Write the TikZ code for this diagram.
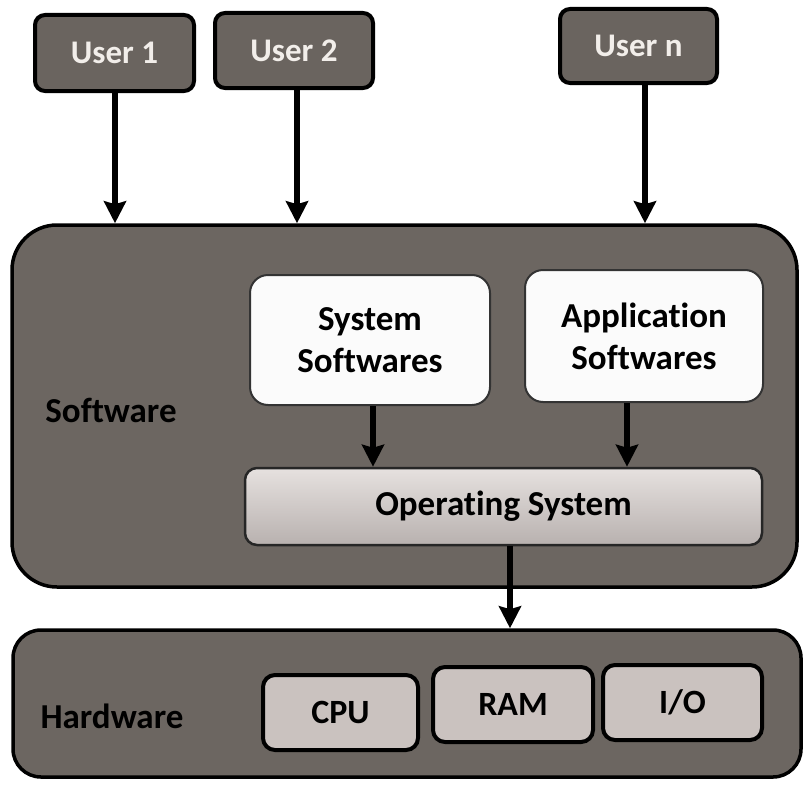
\documentclass[tikz,border=0pt]{standalone}
\usepackage{fontspec}
\setmainfont{Carlito}[Ligatures=NoCommon]
\usetikzlibrary{arrows.meta}
\definecolor{darkbox}{HTML}{6C6661}
\definecolor{userfill}{HTML}{6A645F}
\definecolor{ostop}{HTML}{E6E1DF}
\definecolor{osbot}{HTML}{B8B1AF}
\definecolor{hwfill}{HTML}{CAC2BF}
\definecolor{usertext}{HTML}{F2EEEA}
\tikzset{
  userbox/.style={draw=black, line width=4pt, fill=userfill, rounded corners=10pt,
    text=usertext, font=\fontsize{33}{36}\selectfont\bfseries, inner sep=0pt},
  groupbox/.style={draw=black, line width=3.5pt, fill=darkbox, inner sep=0pt},
  swbox/.style={draw=black!80, line width=2pt, fill=white!97!gray, rounded corners=18pt,
    font=\fontsize{35}{42}\selectfont\bfseries, align=center, inner sep=0pt},
  osbox/.style={draw=black!85, line width=2.5pt, top color=ostop, bottom color=osbot,
    rounded corners=12pt, font=\fontsize{35}{40}\selectfont\bfseries, inner sep=0pt},
  hwbox/.style={draw=black, line width=4pt, fill=hwfill, rounded corners=12pt,
    font=\fontsize{34}{38}\selectfont\bfseries, inner sep=0pt},
  grouplabel/.style={font=\fontsize{35}{38}\selectfont\bfseries, text=black},
  arr/.style={draw=black, line width=5.5pt, -{Stealth[length=22pt,width=22pt,inset=3pt]}},
}
\begin{document}
\begin{tikzpicture}[x=1pt,y=-1pt]
\useasboundingbox (0,0) rectangle (805,784);
\fill[white] (0,0) rectangle (805,784);
% users
\node[userbox, minimum width=159pt, minimum height=76pt] (u1) at (114.5,53) {User 1};
\node[userbox, minimum width=158pt, minimum height=75pt] (u2) at (294,50.5) {User 2};
\node[userbox, minimum width=157pt, minimum height=74pt] (un) at (638.5,46) {User n};
% software group
\node[groupbox, rounded corners=45pt, minimum width=785pt, minimum height=362pt] (sw) at (404.5,406) {};
\node[grouplabel] (swl) at (111,410) {Software};
\node[swbox, minimum width=240pt, minimum height=130pt] (sys) at (370,340) {System\\Softwares};
\node[swbox, minimum width=238pt, minimum height=132pt] (app) at (644,336) {Application\\Softwares};
\node[osbox, minimum width=517pt, minimum height=77pt] (os) at (503.5,506.5) {Operating System};
% hardware group
\node[groupbox, rounded corners=28pt, minimum width=788pt, minimum height=147pt] (hw) at (407,703.5) {};
\node[grouplabel] (hwl) at (112,716) {Hardware};
\node[hwbox, minimum width=155pt, minimum height=75pt] (cpu) at (340.5,712.5) {CPU};
\node[hwbox, minimum width=160pt, minimum height=75pt] (ram) at (513,704.5) {RAM};
\node[hwbox, minimum width=159pt, minimum height=75pt] (io) at (682.5,702.5) {I/O};
% connector columns
\coordinate (c1) at (115,0);
\coordinate (c2) at (297,0);
\coordinate (c3) at (645,0);
\coordinate (c4) at (373,0);
\coordinate (c5) at (627,0);
\coordinate (c6) at (510,0);
\draw[arr] (c1 |- u1.south) -- (c1 |- sw.north);
\draw[arr] (c2 |- u2.south) -- (c2 |- sw.north);
\draw[arr] (c3 |- un.south) -- (c3 |- sw.north);
\draw[arr] (c4 |- sys.south) -- (c4 |- os.north);
\draw[arr] (c5 |- app.south) -- (c5 |- os.north);
\draw[arr] (c6 |- os.south) -- (c6 |- hw.north);
\end{tikzpicture}
\end{document}
